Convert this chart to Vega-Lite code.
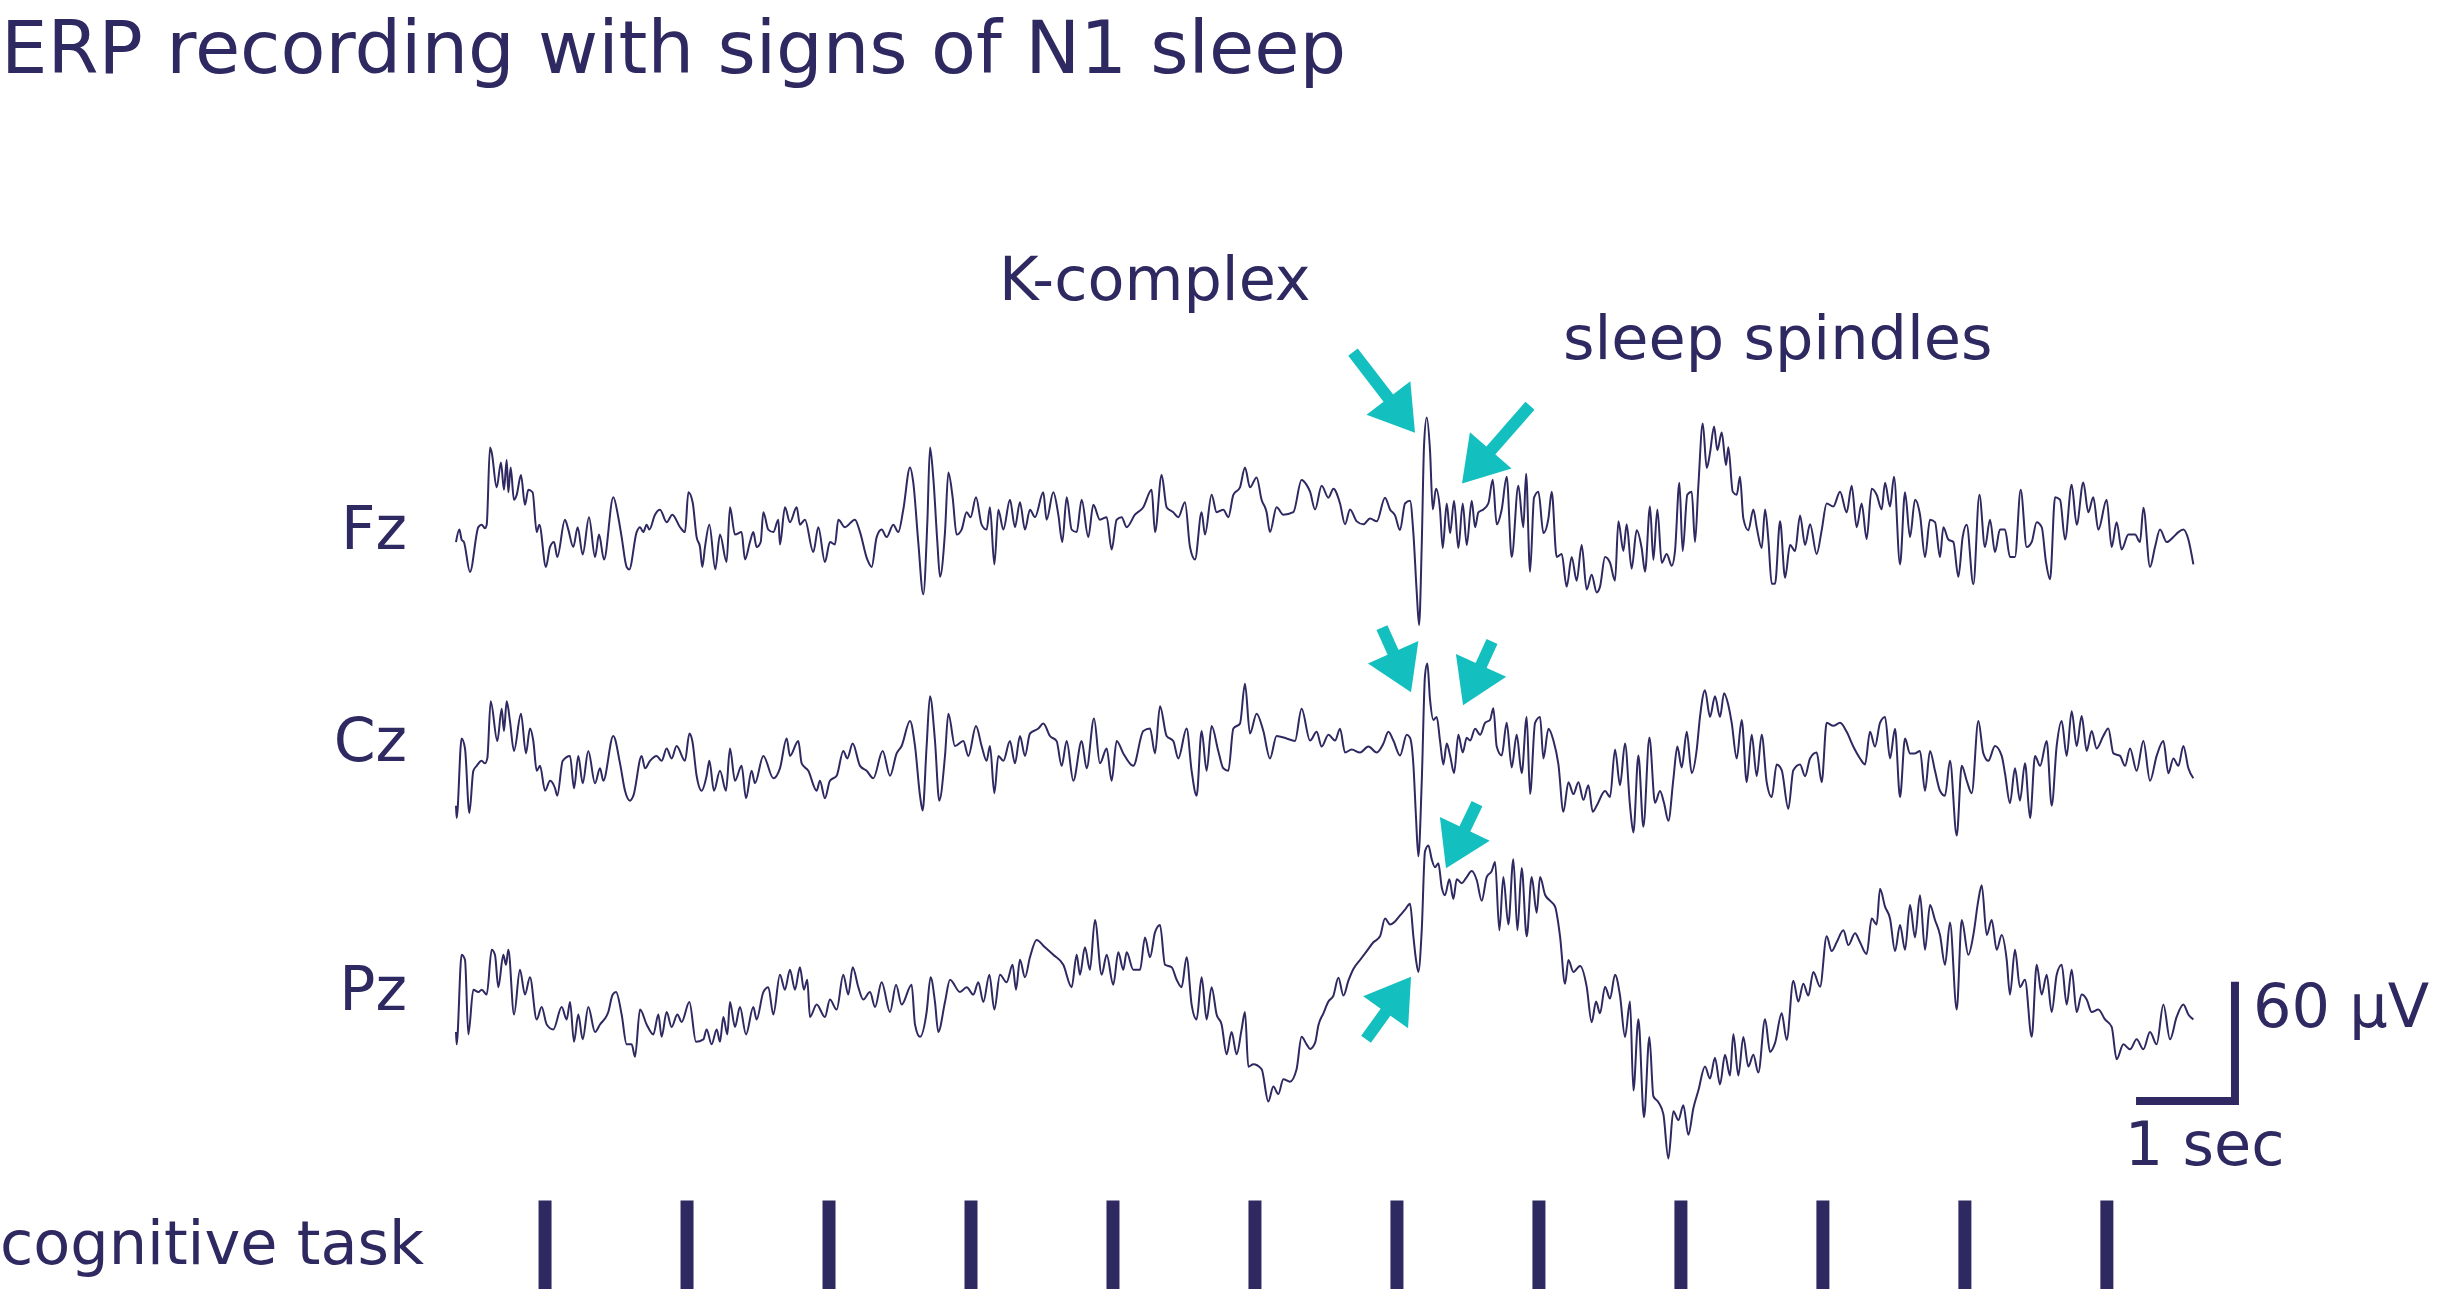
{
"$schema": "https://vega.github.io/schema/vega-lite/v6.json",
"autosize": {"type": "fit", "contains": "padding"},
"width": 2440, "height": 1296, "padding": 0,
"background": "white",
"config": {"view": {"stroke": null}},
"datasets": {
"fz": [
{"t":0.000,"v":-4.0},{"t":0.033,"v":2.25},{"t":0.055,"v":-2.75},{"t":0.078,"v":-4.0},{"t":0.137,"v":-19.0},{"t":0.219,"v":3.5},{"t":0.251,"v":4.75},{"t":0.284,"v":3.0},{"t":0.301,"v":4.75},{"t":0.333,"v":43.5},{"t":0.350,"v":41.0},{"t":0.399,"v":23.5},{"t":0.441,"v":36.0},{"t":0.470,"v":22.25},{"t":0.497,"v":37.25},{"t":0.513,"v":21.0},{"t":0.536,"v":33.5},{"t":0.568,"v":17.25},{"t":0.595,"v":19.75},{"t":0.637,"v":29.75},{"t":0.676,"v":14.75},{"t":0.709,"v":22.25},{"t":0.751,"v":21.0},{"t":0.791,"v":1.0},{"t":0.817,"v":4.75},{"t":0.882,"v":-16.5},{"t":0.921,"v":-6.5},{"t":0.961,"v":-4.0},{"t":0.993,"v":-11.5},{"t":1.068,"v":7.25},{"t":1.101,"v":2.25},{"t":1.150,"v":-6.5},{"t":1.193,"v":3.5},{"t":1.242,"v":-10.25},{"t":1.304,"v":8.5},{"t":1.363,"v":-11.5},{"t":1.402,"v":-0.25},{"t":1.451,"v":-12.75},{"t":1.542,"v":18.5},{"t":1.591,"v":8.5},{"t":1.624,"v":-1.5},{"t":1.673,"v":-16.5},{"t":1.699,"v":-17.75},{"t":1.771,"v":1.0},{"t":1.804,"v":3.5},{"t":1.836,"v":1.0},{"t":1.869,"v":4.75},{"t":1.895,"v":2.25},{"t":1.951,"v":9.75},{"t":2.000,"v":12.25},{"t":2.065,"v":6.0},{"t":2.121,"v":9.75},{"t":2.196,"v":3.5},{"t":2.245,"v":1.0},{"t":2.278,"v":21.0},{"t":2.320,"v":16.0},{"t":2.359,"v":-1.5},{"t":2.392,"v":-6.5},{"t":2.415,"v":-16.5},{"t":2.441,"v":-6.5},{"t":2.484,"v":4.75},{"t":2.542,"v":-17.75},{"t":2.588,"v":-0.25},{"t":2.653,"v":-14.0},
{"t":2.686,"v":13.5},{"t":2.735,"v":-0.25},{"t":2.800,"v":1.0},{"t":2.833,"v":-12.75},{"t":2.882,"v":-4.0},{"t":2.915,"v":1.0},{"t":2.947,"v":-6.5},{"t":2.987,"v":-4.0},{"t":3.013,"v":11.0},{"t":3.062,"v":2.25},{"t":3.111,"v":1.0},{"t":3.160,"v":7.25},{"t":3.176,"v":-5.25},{"t":3.225,"v":13.5},{"t":3.274,"v":6.0},{"t":3.340,"v":13.5},{"t":3.372,"v":4.75},{"t":3.421,"v":7.25},{"t":3.503,"v":-9.0},{"t":3.552,"v":3.5},{"t":3.617,"v":-14.0},{"t":3.666,"v":-4.0},{"t":3.715,"v":-5.25},{"t":3.748,"v":7.25},{"t":3.813,"v":3.5},{"t":3.911,"v":7.25},{"t":3.961,"v":1.0},{"t":4.032,"v":-12.75},{"t":4.075,"v":-16.5},{"t":4.124,"v":-1.5},{"t":4.173,"v":2.25},{"t":4.222,"v":-1.5},{"t":4.287,"v":4.75},{"t":4.336,"v":1.0},{"t":4.385,"v":12.25},{"t":4.451,"v":33.5},{"t":4.483,"v":26.0},{"t":4.532,"v":-4.0},{"t":4.581,"v":-30.25},{"t":4.621,"v":6.0},{"t":4.647,"v":43.5},{"t":4.679,"v":28.5},{"t":4.719,"v":-4.0},{"t":4.745,"v":-21.5},{"t":4.794,"v":1.0},{"t":4.827,"v":31.0},{"t":4.869,"v":18.5},{"t":4.908,"v":-0.25},{"t":4.957,"v":2.25},{"t":5.006,"v":11.0},{"t":5.045,"v":8.5},{"t":5.098,"v":18.5},{"t":5.153,"v":4.75},{"t":5.202,"v":2.25},{"t":5.235,"v":13.5},{"t":5.278,"v":-15.25},{"t":5.317,"v":12.25},{"t":5.366,"v":2.25},{"t":5.431,"v":17.25},{"t":5.480,"v":3.5},
{"t":5.529,"v":16.0},{"t":5.578,"v":2.25},{"t":5.627,"v":12.25},{"t":5.676,"v":8.5},{"t":5.758,"v":21.0},{"t":5.790,"v":7.25},{"t":5.856,"v":21.0},{"t":5.905,"v":9.75},{"t":5.944,"v":-4.0},{"t":5.987,"v":18.5},{"t":6.036,"v":2.25},{"t":6.085,"v":1.0},{"t":6.134,"v":17.25},{"t":6.199,"v":-1.5},{"t":6.248,"v":14.75},{"t":6.313,"v":7.25},{"t":6.379,"v":8.5},{"t":6.428,"v":-7.75},{"t":6.477,"v":7.25},{"t":6.526,"v":8.5},{"t":6.575,"v":3.5},{"t":6.656,"v":9.75},{"t":6.738,"v":13.5},{"t":6.820,"v":22.25},{"t":6.853,"v":1.0},{"t":6.918,"v":29.75},{"t":6.967,"v":13.5},{"t":7.032,"v":11.0},{"t":7.081,"v":8.5},{"t":7.147,"v":16.0},{"t":7.196,"v":-6.5},{"t":7.245,"v":-12.75},{"t":7.310,"v":11.0},{"t":7.343,"v":-0.25},{"t":7.408,"v":19.75},{"t":7.457,"v":11.0},{"t":7.523,"v":12.25},{"t":7.572,"v":8.5},{"t":7.621,"v":19.75},{"t":7.686,"v":23.5},{"t":7.735,"v":33.5},{"t":7.784,"v":23.5},{"t":7.849,"v":28.5},{"t":7.898,"v":17.25},{"t":7.947,"v":11.0},{"t":7.980,"v":1.0},{"t":8.045,"v":13.5},{"t":8.111,"v":9.75},{"t":8.209,"v":11.0},{"t":8.290,"v":27.25},{"t":8.339,"v":24.75},
{"t":8.373,"v":21.3},{"t":8.422,"v":12.4},{"t":8.487,"v":24.3},{"t":8.553,"v":18.3},{"t":8.602,"v":22.8},{"t":8.667,"v":15.4},{"t":8.716,"v":4.9},{"t":8.765,"v":12.4},{"t":8.831,"v":6.4},{"t":8.896,"v":4.9},{"t":8.961,"v":7.9},{"t":9.027,"v":6.4},{"t":9.108,"v":18.3},{"t":9.157,"v":12.4},{"t":9.206,"v":9.4},{"t":9.255,"v":2.0},{"t":9.304,"v":15.4},{"t":9.353,"v":16.8},{"t":9.386,"v":0.5},{"t":9.419,"v":-29.3},{"t":9.442,"v":-45.7},{"t":9.468,"v":-5.5},{"t":9.491,"v":45.2},{"t":9.517,"v":58.6},{"t":9.549,"v":42.2},{"t":9.576,"v":12.4},{"t":9.608,"v":22.8},{"t":9.647,"v":12.4},{"t":9.674,"v":-7.0},{"t":9.713,"v":15.4},{"t":9.746,"v":0.5},{"t":9.785,"v":16.8},{"t":9.827,"v":-7.0},{"t":9.870,"v":15.4},{"t":9.909,"v":-5.5},{"t":9.958,"v":16.8},{"t":9.991,"v":3.4},{"t":10.023,"v":10.9},{"t":10.072,"v":12.4},{"t":10.121,"v":15.4},{"t":10.164,"v":27.3},{"t":10.203,"v":4.9},{"t":10.252,"v":12.4},{"t":10.301,"v":28.8},{"t":10.350,"v":-11.5},{"t":10.415,"v":24.3},{"t":10.464,"v":3.4},{"t":10.491,"v":30.3},{"t":10.530,"v":-18.9},{"t":10.569,"v":18.3},{"t":10.612,"v":21.3},{"t":10.661,"v":0.5},{"t":10.710,"v":7.9},{"t":10.742,"v":21.3},{"t":10.791,"v":-11.5},{"t":10.840,"v":-10.0},{"t":10.889,"v":-26.4},{"t":10.938,"v":-11.5},{"t":10.987,"v":-23.4},{"t":11.036,"v":-5.5},{"t":11.085,"v":-27.9},{"t":11.134,"v":-20.4},{"t":11.183,"v":-29.3},
{"t":11.216,"v":-26.4},{"t":11.265,"v":-11.5},{"t":11.314,"v":-14.4},{"t":11.363,"v":-23.4},{"t":11.396,"v":6.4},{"t":11.445,"v":-8.5},{"t":11.477,"v":4.9},{"t":11.526,"v":-17.4},{"t":11.575,"v":1.9},{"t":11.624,"v":-7.0},{"t":11.657,"v":-18.9},{"t":11.706,"v":13.9},{"t":11.739,"v":-12.9},{"t":11.778,"v":12.4},{"t":11.821,"v":-14.4},{"t":11.870,"v":-10.0},{"t":11.919,"v":-15.9},{"t":11.951,"v":-8.5},{"t":11.994,"v":25.8},{"t":12.026,"v":-8.5},{"t":12.072,"v":19.8},{"t":12.115,"v":21.3},{"t":12.147,"v":-4.0},{"t":12.180,"v":24.3},{"t":12.223,"v":55.6},{"t":12.262,"v":33.2},{"t":12.294,"v":40.7},{"t":12.334,"v":54.1},{"t":12.366,"v":42.2},{"t":12.409,"v":51.1},{"t":12.451,"v":34.7},{"t":12.474,"v":43.7},{"t":12.517,"v":21.3},{"t":12.556,"v":19.8},{"t":12.588,"v":28.8},{"t":12.621,"v":7.9},{"t":12.670,"v":1.9},{"t":12.719,"v":12.4},{"t":12.752,"v":3.4},{"t":12.801,"v":-7.0},{"t":12.834,"v":12.4},{"t":12.866,"v":-2.5},{"t":12.899,"v":-24.9},{"t":12.932,"v":-24.9},{"t":12.981,"v":6.4},{"t":13.030,"v":-21.9},{"t":13.079,"v":-5.5},{"t":13.128,"v":-8.5},{"t":13.177,"v":9.4},{"t":13.226,"v":-5.5},{"t":13.275,"v":4.9},{"t":13.340,"v":-10.0},{"t":13.389,"v":1.9},{"t":13.438,"v":15.4},{"t":13.503,"v":13.9},{"t":13.569,"v":21.3},{"t":13.634,"v":10.9},{"t":13.683,"v":24.3},{"t":13.732,"v":3.4},{"t":13.781,"v":15.4},{"t":13.830,"v":-2.5},{"t":13.879,"v":22.8},{"t":13.928,"v":19.8},{"t":13.977,"v":12.4},{"t":14.010,"v":25.8},{"t":14.059,"v":13.9},{"t":14.098,"v":28.8},
{"t":14.157,"v":-15.25},{"t":14.206,"v":21.0},{"t":14.255,"v":-1.5},{"t":14.304,"v":17.25},{"t":14.353,"v":9.75},{"t":14.402,"v":-11.5},{"t":14.451,"v":7.25},{"t":14.500,"v":6.0},{"t":14.549,"v":-11.5},{"t":14.582,"v":3.5},{"t":14.631,"v":-2.75},{"t":14.680,"v":-4.0},{"t":14.729,"v":-21.5},{"t":14.771,"v":-1.5},{"t":14.811,"v":4.75},{"t":14.876,"v":-25.25},{"t":14.935,"v":19.75},{"t":14.990,"v":-6.5},{"t":15.039,"v":7.25},{"t":15.088,"v":-9.0},{"t":15.137,"v":2.25},{"t":15.186,"v":2.25},{"t":15.235,"v":-11.5},{"t":15.284,"v":-11.5},{"t":15.340,"v":22.25},{"t":15.399,"v":-6.5},{"t":15.448,"v":-4.0},{"t":15.497,"v":6.0},{"t":15.546,"v":3.5},{"t":15.588,"v":-14.0},{"t":15.628,"v":-22.75},{"t":15.677,"v":18.5},{"t":15.726,"v":17.25},{"t":15.775,"v":-2.75},{"t":15.840,"v":24.75},{"t":15.889,"v":4.75},{"t":15.954,"v":26.0},{"t":16.003,"v":11.0},{"t":16.052,"v":18.5},{"t":16.101,"v":2.25},{"t":16.183,"v":17.25},{"t":16.232,"v":-6.5},{"t":16.281,"v":6.0},{"t":16.330,"v":-7.75},{"t":16.396,"v":-0.25},{"t":16.461,"v":-0.25},{"t":16.510,"v":-4.0},{"t":16.543,"v":13.25},{"t":16.608,"v":-16.5},{"t":16.657,"v":-6.5},{"t":16.706,"v":2.25},{"t":16.772,"v":-4.0},{"t":16.837,"v":-1.5},{"t":16.886,"v":1.0},{"t":16.935,"v":2.25},{"t":16.984,"v":-2.75},{"t":17.033,"v":-15.25}
],
"cz": [
{"t":0.000,"v":-27.5},{"t":0.006,"v":-33.75},{"t":0.055,"v":6.25},{"t":0.088,"v":1.25},{"t":0.131,"v":-31.25},{"t":0.170,"v":-10.0},{"t":0.203,"v":-7.5},{"t":0.251,"v":-5.0},{"t":0.284,"v":-6.25},{"t":0.307,"v":-3.75},{"t":0.340,"v":25.0},{"t":0.405,"v":5.0},{"t":0.448,"v":21.25},{"t":0.470,"v":10.0},{"t":0.497,"v":25.0},{"t":0.529,"v":15.0},{"t":0.568,"v":0.0},{"t":0.637,"v":18.75},{"t":0.686,"v":-1.25},{"t":0.725,"v":11.25},{"t":0.758,"v":5.0},{"t":0.791,"v":-10.0},{"t":0.824,"v":-7.5},{"t":0.873,"v":-20.0},{"t":0.922,"v":-15.0},{"t":0.971,"v":-18.75},{"t":0.993,"v":-22.5},{"t":1.046,"v":-5.0},{"t":1.118,"v":-2.5},{"t":1.157,"v":-18.75},{"t":1.199,"v":-2.5},{"t":1.242,"v":-16.25},{"t":1.297,"v":0.0},{"t":1.363,"v":-16.25},{"t":1.412,"v":-8.75},{"t":1.444,"v":-15.0},{"t":1.542,"v":7.5},{"t":1.608,"v":-6.25},{"t":1.657,"v":-20.0},{"t":1.706,"v":-25.0},{"t":1.739,"v":-22.5},{"t":1.820,"v":-2.5},{"t":1.853,"v":-8.75},{"t":1.902,"v":-5.0},{"t":1.967,"v":-2.5},{"t":2.016,"v":-5.0},{"t":2.065,"v":1.25},{"t":2.114,"v":-3.75},{"t":2.163,"v":2.5},{"t":2.245,"v":-5.0},{"t":2.288,"v":8.75},{"t":2.317,"v":5.0},{"t":2.359,"v":-12.5},{"t":2.408,"v":-20.0},{"t":2.457,"v":-12.5},{"t":2.484,"v":-5.0},{"t":2.529,"v":-20.0},{"t":2.588,"v":-10.0},{"t":2.647,"v":-20.0},
{"t":2.686,"v":1.25},{"t":2.735,"v":-15.0},{"t":2.800,"v":-7.5},{"t":2.843,"v":-23.75},{"t":2.898,"v":-10.0},{"t":2.931,"v":-16.25},{"t":3.013,"v":-2.5},{"t":3.111,"v":-13.75},{"t":3.176,"v":-8.75},{"t":3.242,"v":6.25},{"t":3.274,"v":-2.5},{"t":3.356,"v":5.0},{"t":3.389,"v":-6.25},{"t":3.454,"v":-10.0},{"t":3.536,"v":-20.0},{"t":3.568,"v":-15.0},{"t":3.617,"v":-23.75},{"t":3.666,"v":-15.0},{"t":3.732,"v":-12.5},{"t":3.797,"v":0.0},{"t":3.836,"v":-3.75},{"t":3.889,"v":3.75},{"t":3.961,"v":-7.5},{"t":4.026,"v":-10.0},{"t":4.091,"v":-13.75},{"t":4.183,"v":0.0},{"t":4.255,"v":-12.5},{"t":4.320,"v":-1.25},{"t":4.369,"v":2.5},{"t":4.451,"v":15.0},{"t":4.500,"v":2.5},{"t":4.549,"v":-22.5},{"t":4.575,"v":-30.0},{"t":4.614,"v":2.5},{"t":4.647,"v":27.5},{"t":4.696,"v":5.0},{"t":4.738,"v":-25.0},{"t":4.794,"v":-2.5},{"t":4.827,"v":18.75},{"t":4.892,"v":2.5},{"t":4.974,"v":5.0},{"t":5.023,"v":-2.5},{"t":5.098,"v":12.5},{"t":5.153,"v":2.5},{"t":5.202,"v":-5.0},{"t":5.235,"v":2.5},{"t":5.278,"v":-21.25},{"t":5.317,"v":-2.5},{"t":5.366,"v":-5.0},{"t":5.431,"v":5.0},{"t":5.480,"v":-6.25},
{"t":5.529,"v":7.5},{"t":5.578,"v":-2.5},{"t":5.627,"v":8.75},{"t":5.709,"v":11.25},{"t":5.758,"v":13.75},{"t":5.823,"v":7.5},{"t":5.888,"v":5.0},{"t":5.938,"v":-7.5},{"t":5.987,"v":5.0},{"t":6.052,"v":-15.0},{"t":6.134,"v":5.0},{"t":6.183,"v":-8.75},{"t":6.255,"v":16.25},{"t":6.313,"v":-6.25},{"t":6.379,"v":1.25},{"t":6.428,"v":-15.0},{"t":6.477,"v":5.0},{"t":6.542,"v":-1.25},{"t":6.640,"v":-7.5},{"t":6.738,"v":10.0},{"t":6.804,"v":11.25},{"t":6.853,"v":-1.25},{"t":6.902,"v":22.5},{"t":6.967,"v":7.5},{"t":7.032,"v":5.0},{"t":7.081,"v":-3.75},{"t":7.163,"v":11.25},{"t":7.212,"v":-10.0},{"t":7.261,"v":-22.5},{"t":7.310,"v":10.0},{"t":7.359,"v":-10.0},{"t":7.408,"v":12.5},{"t":7.473,"v":0.0},{"t":7.523,"v":-8.75},{"t":7.572,"v":-10.0},{"t":7.621,"v":11.25},{"t":7.686,"v":13.75},{"t":7.735,"v":33.75},{"t":7.784,"v":8.75},{"t":7.849,"v":18.75},{"t":7.915,"v":10.0},{"t":7.980,"v":-3.75},{"t":8.045,"v":7.5},{"t":8.143,"v":6.25},{"t":8.225,"v":5.0},{"t":8.290,"v":21.25},
{"t":8.373,"v":5.2},{"t":8.438,"v":9.6},{"t":8.487,"v":2.2},{"t":8.553,"v":8.1},{"t":8.618,"v":5.2},{"t":8.667,"v":11.1},{"t":8.716,"v":-0.8},{"t":8.781,"v":0.7},{"t":8.863,"v":-0.8},{"t":8.945,"v":2.2},{"t":9.027,"v":-0.8},{"t":9.092,"v":3.7},{"t":9.141,"v":9.6},{"t":9.190,"v":5.2},{"t":9.255,"v":-2.3},{"t":9.321,"v":8.1},{"t":9.353,"v":6.6},{"t":9.386,"v":-6.8},{"t":9.412,"v":-33.6},{"t":9.435,"v":-53.0},{"t":9.468,"v":-15.7},{"t":9.500,"v":37.9},{"t":9.523,"v":43.9},{"t":9.549,"v":26.0},{"t":9.582,"v":15.6},{"t":9.615,"v":17.1},{"t":9.647,"v":5.2},{"t":9.680,"v":-6.8},{"t":9.713,"v":3.7},{"t":9.746,"v":-2.3},{"t":9.785,"v":-11.2},{"t":9.827,"v":8.1},{"t":9.870,"v":-0.8},{"t":9.909,"v":6.6},{"t":9.942,"v":5.2},{"t":9.991,"v":11.1},{"t":10.040,"v":8.1},{"t":10.089,"v":14.1},{"t":10.138,"v":15.6},{"t":10.170,"v":21.5},{"t":10.203,"v":2.2},{"t":10.252,"v":-2.3},{"t":10.301,"v":14.1},{"t":10.350,"v":-8.3},{"t":10.399,"v":8.1},{"t":10.448,"v":-11.2},{"t":10.497,"v":17.1},{"t":10.530,"v":-21.7},{"t":10.579,"v":14.1},{"t":10.628,"v":17.1},{"t":10.661,"v":-3.8},{"t":10.710,"v":11.1},{"t":10.759,"v":5.2},{"t":10.808,"v":-6.8},{"t":10.857,"v":-30.6},{"t":10.906,"v":-15.7},{"t":10.955,"v":-21.7},{"t":11.004,"v":-15.7},{"t":11.053,"v":-24.6},{"t":11.102,"v":-17.2},{"t":11.144,"v":-30.6},{"t":11.183,"v":-27.6},
{"t":11.265,"v":-20.2},{"t":11.314,"v":-23.2},{"t":11.363,"v":0.7},{"t":11.412,"v":-17.2},{"t":11.461,"v":3.7},{"t":11.510,"v":-27.6},{"t":11.543,"v":-41.0},{"t":11.592,"v":-2.3},{"t":11.641,"v":-38.1},{"t":11.700,"v":6.7},{"t":11.755,"v":-26.1},{"t":11.804,"v":-20.2},{"t":11.843,"v":-26.1},{"t":11.886,"v":-35.1},{"t":11.935,"v":-14.2},{"t":11.974,"v":2.2},{"t":12.017,"v":-8.3},{"t":12.066,"v":9.6},{"t":12.115,"v":-11.2},{"t":12.164,"v":0.7},{"t":12.196,"v":17.1},{"t":12.245,"v":30.5},{"t":12.294,"v":17.1},{"t":12.343,"v":27.5},{"t":12.392,"v":17.1},{"t":12.432,"v":29.0},{"t":12.474,"v":23.0},{"t":12.507,"v":14.1},{"t":12.556,"v":-3.8},{"t":12.605,"v":15.6},{"t":12.654,"v":-15.7},{"t":12.703,"v":8.1},{"t":12.752,"v":-12.7},{"t":12.801,"v":8.1},{"t":12.850,"v":-15.7},{"t":12.899,"v":-23.2},{"t":12.948,"v":-6.8},{"t":12.997,"v":-9.7},{"t":13.062,"v":-29.1},{"t":13.111,"v":-9.7},{"t":13.177,"v":-6.8},{"t":13.226,"v":-12.7},{"t":13.275,"v":-3.8},{"t":13.340,"v":-0.8},{"t":13.389,"v":-15.7},{"t":13.438,"v":14.1},{"t":13.503,"v":12.6},{"t":13.569,"v":14.1},{"t":13.634,"v":9.6},{"t":13.699,"v":2.2},{"t":13.765,"v":-3.8},{"t":13.814,"v":-6.8},{"t":13.863,"v":9.6},{"t":13.912,"v":2.2},{"t":13.961,"v":14.1},{"t":14.010,"v":17.1},{"t":14.059,"v":-3.8},{"t":14.108,"v":11.1},{"t":14.157,"v":-23.2},
{"t":14.206,"v":6.25},{"t":14.255,"v":-1.25},{"t":14.304,"v":-1.25},{"t":14.353,"v":0.0},{"t":14.402,"v":-20.0},{"t":14.451,"v":0.0},{"t":14.500,"v":-10.0},{"t":14.549,"v":-20.0},{"t":14.598,"v":-22.5},{"t":14.647,"v":-5.0},{"t":14.713,"v":-42.5},{"t":14.762,"v":-7.5},{"t":14.811,"v":-15.0},{"t":14.860,"v":-21.25},{"t":14.925,"v":15.0},{"t":14.974,"v":-1.25},{"t":15.023,"v":-5.0},{"t":15.088,"v":2.5},{"t":15.154,"v":-2.5},{"t":15.186,"v":-11.25},{"t":15.235,"v":-26.25},{"t":15.284,"v":-8.75},{"t":15.333,"v":-25.0},{"t":15.382,"v":-6.25},{"t":15.432,"v":-33.75},{"t":15.481,"v":-2.5},{"t":15.530,"v":-7.5},{"t":15.595,"v":5.0},{"t":15.644,"v":-27.5},{"t":15.693,"v":2.5},{"t":15.742,"v":15.0},{"t":15.791,"v":-2.5},{"t":15.840,"v":20.0},{"t":15.889,"v":2.5},{"t":15.938,"v":17.5},{"t":15.987,"v":0.0},{"t":16.036,"v":10.0},{"t":16.085,"v":1.25},{"t":16.150,"v":7.5},{"t":16.199,"v":11.25},{"t":16.249,"v":-1.25},{"t":16.314,"v":-2.5},{"t":16.363,"v":-7.5},{"t":16.412,"v":1.25},{"t":16.477,"v":-10.0},{"t":16.543,"v":5.0},{"t":16.608,"v":-15.0},{"t":16.673,"v":-2.5},{"t":16.739,"v":5.0},{"t":16.788,"v":-11.25},{"t":16.837,"v":-3.75},{"t":16.886,"v":-7.5},{"t":16.935,"v":2.5},{"t":16.984,"v":-8.75},{"t":17.033,"v":-13.75}
],
"pz": [
{"t":0.000,"v":-16.75},{"t":0.006,"v":-23.0},{"t":0.055,"v":22.0},{"t":0.088,"v":19.5},{"t":0.121,"v":-18.0},{"t":0.170,"v":4.5},{"t":0.219,"v":3.25},{"t":0.252,"v":4.5},{"t":0.301,"v":2.0},{"t":0.350,"v":24.5},{"t":0.382,"v":22.0},{"t":0.415,"v":5.75},{"t":0.464,"v":22.0},{"t":0.490,"v":17.0},{"t":0.513,"v":24.5},{"t":0.569,"v":-8.0},{"t":0.627,"v":14.5},{"t":0.676,"v":2.0},{"t":0.725,"v":10.75},{"t":0.791,"v":-10.5},{"t":0.840,"v":-4.25},{"t":0.889,"v":-13.0},{"t":0.954,"v":-15.5},{"t":1.036,"v":-4.25},{"t":1.085,"v":-10.5},{"t":1.118,"v":-1.75},{"t":1.157,"v":-21.75},{"t":1.199,"v":-8.0},{"t":1.242,"v":-20.5},{"t":1.297,"v":-4.25},{"t":1.363,"v":-16.75},{"t":1.412,"v":-13.0},{"t":1.493,"v":-6.75},{"t":1.536,"v":2.0},{"t":1.569,"v":3.25},{"t":1.624,"v":-8.0},{"t":1.673,"v":-23.0},{"t":1.722,"v":-23.0},{"t":1.755,"v":-29.25},{"t":1.804,"v":-5.5},{"t":1.869,"v":-13.0},{"t":1.935,"v":-18.0},{"t":1.984,"v":-8.0},{"t":2.016,"v":-19.25},{"t":2.065,"v":-6.75},{"t":2.114,"v":-14.25},{"t":2.170,"v":-8.0},{"t":2.212,"v":-11.75},{"t":2.288,"v":-1.75},{"t":2.353,"v":-21.75},{"t":2.425,"v":-20.5},{"t":2.457,"v":-15.5},{"t":2.506,"v":-23.0},{"t":2.556,"v":-15.5},{"t":2.588,"v":-21.75},{"t":2.621,"v":-9.25},{"t":2.660,"v":-18.0},
{"t":2.686,"v":-1.75},{"t":2.735,"v":-14.25},{"t":2.784,"v":-4.25},{"t":2.843,"v":-18.0},{"t":2.915,"v":-4.25},{"t":2.947,"v":-10.5},{"t":3.013,"v":3.25},{"t":3.062,"v":5.75},{"t":3.111,"v":-8.0},{"t":3.176,"v":12.0},{"t":3.225,"v":4.5},{"t":3.274,"v":14.5},{"t":3.323,"v":4.5},{"t":3.372,"v":15.75},{"t":3.411,"v":4.5},{"t":3.444,"v":9.5},{"t":3.470,"v":-9.25},{"t":3.536,"v":-3.0},{"t":3.617,"v":-9.25},{"t":3.666,"v":-0.5},{"t":3.732,"v":-5.5},{"t":3.797,"v":12.0},{"t":3.846,"v":2.0},{"t":3.889,"v":15.75},{"t":3.944,"v":5.75},{"t":3.993,"v":-0.5},{"t":4.059,"v":3.25},{"t":4.108,"v":-4.25},{"t":4.173,"v":8.25},{"t":4.255,"v":-6.75},{"t":4.314,"v":7.0},{"t":4.369,"v":-3.0},{"t":4.467,"v":7.0},{"t":4.500,"v":-13.0},{"t":4.549,"v":-19.25},{"t":4.614,"v":-6.75},{"t":4.653,"v":10.75},{"t":4.696,"v":-1.75},{"t":4.728,"v":-16.75},{"t":4.794,"v":-1.75},{"t":4.843,"v":9.5},{"t":4.941,"v":3.25},{"t":5.006,"v":5.75},{"t":5.072,"v":2.0},{"t":5.121,"v":8.25},{"t":5.170,"v":-1.75},{"t":5.229,"v":12.0},{"t":5.278,"v":-5.5},{"t":5.333,"v":12.0},{"t":5.398,"v":8.25},{"t":5.457,"v":17.0},{"t":5.490,"v":4.5},
{"t":5.529,"v":19.5},{"t":5.578,"v":10.75},{"t":5.627,"v":20.75},{"t":5.692,"v":29.5},{"t":5.774,"v":25.75},{"t":5.856,"v":22.0},{"t":5.954,"v":17.0},{"t":6.036,"v":5.75},{"t":6.085,"v":22.0},{"t":6.117,"v":12.0},{"t":6.166,"v":25.75},{"t":6.215,"v":14.5},{"t":6.264,"v":39.5},{"t":6.330,"v":12.0},{"t":6.379,"v":22.0},{"t":6.444,"v":7.0},{"t":6.493,"v":23.25},{"t":6.542,"v":14.5},{"t":6.575,"v":23.25},{"t":6.640,"v":14.5},{"t":6.706,"v":14.5},{"t":6.755,"v":30.75},{"t":6.804,"v":20.75},{"t":6.853,"v":33.25},{"t":6.902,"v":37.0},{"t":6.951,"v":17.0},{"t":7.016,"v":15.75},{"t":7.065,"v":9.5},{"t":7.114,"v":5.75},{"t":7.163,"v":20.75},{"t":7.212,"v":-3.0},{"t":7.261,"v":-10.5},{"t":7.310,"v":10.75},{"t":7.359,"v":-10.5},{"t":7.408,"v":5.75},{"t":7.457,"v":-8.0},{"t":7.506,"v":-13.0},{"t":7.555,"v":-28.0},{"t":7.604,"v":-16.75},{"t":7.653,"v":-28.0},{"t":7.702,"v":-15.5},{"t":7.735,"v":-6.75},{"t":7.768,"v":-34.25},{"t":7.817,"v":-33.0},{"t":7.898,"v":-35.5},{"t":7.964,"v":-51.75},{"t":8.013,"v":-44.25},{"t":8.062,"v":-48.0},{"t":8.111,"v":-40.5},{"t":8.176,"v":-41.75},{"t":8.241,"v":-35.5},{"t":8.290,"v":-19.25},{"t":8.339,"v":-23.0},
{"t":8.373,"v":-25.3},{"t":8.422,"v":-22.3},{"t":8.455,"v":-13.4},{"t":8.504,"v":-7.4},{"t":8.553,"v":-1.5},{"t":8.602,"v":1.5},{"t":8.651,"v":10.5},{"t":8.700,"v":1.5},{"t":8.749,"v":9.0},{"t":8.798,"v":14.9},{"t":8.863,"v":19.4},{"t":8.929,"v":23.9},{"t":8.994,"v":28.3},{"t":9.059,"v":31.3},{"t":9.108,"v":40.3},{"t":9.157,"v":37.3},{"t":9.206,"v":38.8},{"t":9.255,"v":41.8},{"t":9.304,"v":44.7},{"t":9.353,"v":47.7},{"t":9.386,"v":31.3},{"t":9.412,"v":19.4},{"t":9.435,"v":13.4},{"t":9.468,"v":34.3},{"t":9.500,"v":74.0},{"t":9.533,"v":77.0},{"t":9.566,"v":70.0},{"t":9.598,"v":66.0},{"t":9.631,"v":68.0},{"t":9.664,"v":56.0},{"t":9.696,"v":52.0},{"t":9.739,"v":60.0},{"t":9.778,"v":50.0},{"t":9.811,"v":60.0},{"t":9.860,"v":58.0},{"t":9.909,"v":61.1},{"t":9.958,"v":64.1},{"t":10.007,"v":59.6},{"t":10.056,"v":49.2},{"t":10.105,"v":61.1},{"t":10.154,"v":64.1},{"t":10.187,"v":68.6},{"t":10.229,"v":34.3},{"t":10.268,"v":61.1},{"t":10.317,"v":37.3},{"t":10.366,"v":70.1},{"t":10.406,"v":34.3},{"t":10.448,"v":65.6},{"t":10.497,"v":31.3},{"t":10.546,"v":61.1},{"t":10.595,"v":43.2},{"t":10.628,"v":61.1},{"t":10.677,"v":52.2},{"t":10.726,"v":49.2},{"t":10.775,"v":46.2},{"t":10.824,"v":31.3},{"t":10.873,"v":7.5},{"t":10.906,"v":19.4},{"t":10.955,"v":13.4},{"t":11.020,"v":16.4},{"t":11.085,"v":6.0},{"t":11.134,"v":-11.9},{"t":11.177,"v":-1.5},
{"t":11.216,"v":-7.4},{"t":11.265,"v":6.0},{"t":11.314,"v":0.0},{"t":11.363,"v":12.0},{"t":11.412,"v":1.5},{"t":11.461,"v":-19.3},{"t":11.510,"v":-1.5},{"t":11.543,"v":-46.2},{"t":11.592,"v":-10.4},{"t":11.647,"v":-59.6},{"t":11.700,"v":-19.3},{"t":11.739,"v":-49.1},{"t":11.788,"v":-52.1},{"t":11.837,"v":-58.1},{"t":11.886,"v":-80.4},{"t":11.935,"v":-56.6},{"t":11.984,"v":-61.1},{"t":12.033,"v":-53.6},{"t":12.082,"v":-68.5},{"t":12.131,"v":-55.1},{"t":12.180,"v":-46.2},{"t":12.245,"v":-34.2},{"t":12.294,"v":-40.2},{"t":12.343,"v":-29.8},{"t":12.392,"v":-43.2},{"t":12.441,"v":-28.3},{"t":12.490,"v":-38.7},{"t":12.523,"v":-17.9},{"t":12.572,"v":-38.7},{"t":12.621,"v":-19.3},{"t":12.670,"v":-34.2},{"t":12.719,"v":-28.3},{"t":12.768,"v":-37.2},{"t":12.834,"v":-10.4},{"t":12.883,"v":-26.8},{"t":12.932,"v":-22.3},{"t":12.997,"v":-7.4},{"t":13.046,"v":-20.8},{"t":13.111,"v":9.0},{"t":13.160,"v":-1.5},{"t":13.209,"v":7.5},{"t":13.258,"v":1.5},{"t":13.307,"v":13.4},{"t":13.373,"v":6.0},{"t":13.438,"v":31.3},{"t":13.487,"v":23.9},{"t":13.536,"v":28.3},{"t":13.602,"v":34.3},{"t":13.651,"v":26.9},{"t":13.716,"v":32.8},{"t":13.765,"v":28.3},{"t":13.830,"v":22.4},{"t":13.879,"v":40.3},{"t":13.928,"v":37.3},{"t":13.961,"v":55.2},{"t":14.010,"v":46.2},{"t":14.059,"v":40.3},{"t":14.108,"v":23.9},
{"t":14.157,"v":37.0},{"t":14.206,"v":24.5},{"t":14.255,"v":47.0},{"t":14.304,"v":30.75},{"t":14.353,"v":52.0},{"t":14.402,"v":24.5},{"t":14.451,"v":47.0},{"t":14.500,"v":39.5},{"t":14.549,"v":32.0},{"t":14.598,"v":17.0},{"t":14.647,"v":38.25},{"t":14.713,"v":-5.5},{"t":14.762,"v":39.5},{"t":14.827,"v":22.0},{"t":14.876,"v":32.0},{"t":14.925,"v":49.5},{"t":14.958,"v":57.0},{"t":15.007,"v":32.0},{"t":15.056,"v":39.5},{"t":15.105,"v":24.5},{"t":15.154,"v":32.0},{"t":15.203,"v":19.5},{"t":15.235,"v":2.0},{"t":15.284,"v":24.5},{"t":15.333,"v":5.75},{"t":15.382,"v":9.5},{"t":15.448,"v":-19.25},{"t":15.497,"v":17.0},{"t":15.546,"v":2.0},{"t":15.595,"v":12.0},{"t":15.644,"v":-6.75},{"t":15.693,"v":12.0},{"t":15.742,"v":17.0},{"t":15.791,"v":-3.0},{"t":15.840,"v":14.5},{"t":15.889,"v":-6.75},{"t":15.938,"v":2.0},{"t":15.987,"v":-0.5},{"t":16.036,"v":-6.75},{"t":16.101,"v":-5.5},{"t":16.167,"v":-10.5},{"t":16.232,"v":-14.25},{"t":16.281,"v":-30.5},{"t":16.347,"v":-23.0},{"t":16.412,"v":-25.5},{"t":16.477,"v":-20.5},{"t":16.543,"v":-25.5},{"t":16.608,"v":-16.75},{"t":16.673,"v":-23.0},{"t":16.739,"v":-3.0},{"t":16.804,"v":-20.5},{"t":16.869,"v":-9.25},{"t":16.935,"v":-3.0},{"t":16.984,"v":-8.0},{"t":17.033,"v":-10.5}
],
"channels": [
{"label":"Fz","t":-0.48,"v":372},{"label":"Cz","t":-0.48,"v":265.5},{"label":"Pz","t":-0.48,"v":140.5}
],
"notes": [
{"label":"K-complex","t":5.324,"v":497},{"label":"sleep spindles","t":10.853,"v":467.5},{"label":"cognitive task","t":-4.47,"v":12.5},{"label":"60 µV","t":17.618,"v":131.5},{"label":"1 sec","t":16.36,"v":62.5}
],
"heading": [
{"label":"ERP recording with signs of N1 sleep","t":-4.46,"v":611.5}
],
"tasks": [
{"t":0.873},{"t":2.265},{"t":3.657},{"t":5.049},{"t":6.441},{"t":7.833},{"t":9.225},{"t":10.617},{"t":12.009},{"t":13.401},{"t":14.793},{"t":16.185}
],
"arrows": [
{"t1":8.794,"v1":471,"t2":9.402,"v2":430.5},
{"t1":10.529,"v1":444,"t2":9.863,"v2":405},
{"t1":9.078,"v1":332.5,"t2":9.363,"v2":300},
{"t1":10.157,"v1":325.5,"t2":9.873,"v2":293.5},
{"t1":10.010,"v1":244,"t2":9.706,"v2":211.5},
{"t1":8.922,"v1":125.5,"t2":9.363,"v2":157}
],
"scalebar": [
{"t":16.471,"v":94.5,"o":1},{"t":17.441,"v":94.5,"o":2},{"t":17.441,"v":154.5,"o":3}
]
},
"resolve": {"scale": {"y": "independent"}},
"layer": [
{
"data": {"name": "fz"},
"mark": {"type": "line", "color": "#2e2960", "strokeWidth": 2, "strokeJoin": "round", "interpolate": "monotone"},
"encoding": {
"x": {"field": "t", "type": "quantitative", "scale": {"domain": [-4.4706, 19.451], "nice": false, "zero": false}, "axis": null},
"y": {"field": "v", "type": "quantitative", "scale": {"domain": [-379.5, 268.5], "nice": false, "zero": false}, "axis": null}
}
},
{
"data": {"name": "cz"},
"mark": {"type": "line", "color": "#2e2960", "strokeWidth": 2, "strokeJoin": "round", "interpolate": "monotone"},
"encoding": {
"x": {"field": "t", "type": "quantitative", "scale": {"domain": [-4.4706, 19.451], "nice": false, "zero": false}, "axis": null},
"y": {"field": "v", "type": "quantitative", "scale": {"domain": [-270.5, 377.5], "nice": false, "zero": false}, "axis": null}
}
},
{
"data": {"name": "pz"},
"mark": {"type": "line", "color": "#2e2960", "strokeWidth": 2, "strokeJoin": "round", "interpolate": "monotone"},
"encoding": {
"x": {"field": "t", "type": "quantitative", "scale": {"domain": [-4.4706, 19.451], "nice": false, "zero": false}, "axis": null},
"y": {"field": "v", "type": "quantitative", "scale": {"domain": [-146, 502], "nice": false, "zero": false}, "axis": null}
}
},
{
"layer": [
{
"data": {"name": "heading"},
"mark": {"type": "text", "font": "DejaVu Sans", "fontSize": 73.5, "align": "left", "baseline": "alphabetic", "color": "#2e2960"},
"encoding": {
"x": {"field": "t", "type": "quantitative", "scale": {"domain": [-4.4706, 19.451], "nice": false, "zero": false}, "axis": null},
"y": {"field": "v", "type": "quantitative", "scale": {"domain": [0, 648], "nice": false, "zero": false}, "axis": null},
"text": {"field": "label"}
}
},
{
"data": {"name": "channels"},
"mark": {"type": "text", "font": "DejaVu Sans", "fontSize": 60, "align": "right", "baseline": "alphabetic", "color": "#2e2960"},
"encoding": {
"x": {"field": "t", "type": "quantitative", "scale": {"domain": [-4.4706, 19.451], "nice": false, "zero": false}, "axis": null},
"y": {"field": "v", "type": "quantitative", "scale": {"domain": [0, 648], "nice": false, "zero": false}, "axis": null},
"text": {"field": "label"}
}
},
{
"data": {"name": "notes"},
"mark": {"type": "text", "font": "DejaVu Sans", "fontSize": 60.5, "align": "left", "baseline": "alphabetic", "color": "#2e2960"},
"encoding": {
"x": {"field": "t", "type": "quantitative", "scale": {"domain": [-4.4706, 19.451], "nice": false, "zero": false}, "axis": null},
"y": {"field": "v", "type": "quantitative", "scale": {"domain": [0, 648], "nice": false, "zero": false}, "axis": null},
"text": {"field": "label"}
}
},
{
"data": {"name": "tasks"},
"mark": {"type": "rule", "color": "#2e2960", "strokeWidth": 13, "strokeCap": "butt"},
"encoding": {
"x": {"field": "t", "type": "quantitative", "scale": {"domain": [-4.4706, 19.451], "nice": false, "zero": false}, "axis": null},
"y": {"datum": 44.5, "type": "quantitative", "scale": {"domain": [0, 648], "nice": false, "zero": false}, "axis": null},
"y2": {"datum": 0}
}
},
{
"data": {"name": "scalebar"},
"mark": {"type": "line", "color": "#2e2960", "strokeWidth": 8, "strokeCap": "butt", "strokeJoin": "miter"},
"encoding": {
"x": {"field": "t", "type": "quantitative", "scale": {"domain": [-4.4706, 19.451], "nice": false, "zero": false}, "axis": null},
"y": {"field": "v", "type": "quantitative", "scale": {"domain": [0, 648], "nice": false, "zero": false}, "axis": null},
"order": {"field": "o", "type": "quantitative"}
}
},
{
"data": {"name": "arrows"},
"transform": [
{"calculate": "datum.t2 + (datum.t1 - datum.t2) * 0.3", "as": "tn"},
{"calculate": "datum.v2 + (datum.v1 - datum.v2) * 0.3", "as": "vn"}
],
"mark": {"type": "rule", "color": "#13bfbf", "strokeWidth": 12, "strokeCap": "butt"},
"encoding": {
"x": {"field": "t1", "type": "quantitative", "scale": {"domain": [-4.4706, 19.451], "nice": false, "zero": false}, "axis": null},
"y": {"field": "v1", "type": "quantitative", "scale": {"domain": [0, 648], "nice": false, "zero": false}, "axis": null},
"x2": {"field": "tn"},
"y2": {"field": "vn"}
}
},
{
"data": {"name": "arrows"},
"transform": [
{"calculate": "atan2(102 * (datum.t2 - datum.t1), 2 * (datum.v2 - datum.v1)) * 180 / PI", "as": "ang"}
],
"mark": {"type": "point", "shape": "M0,0L1.2,1.9L-1.2,1.9Z", "size": 2116, "filled": true, "color": "#13bfbf", "opacity": 1, "strokeWidth": 0},
"encoding": {
"x": {"field": "t2", "type": "quantitative", "scale": {"domain": [-4.4706, 19.451], "nice": false, "zero": false}, "axis": null},
"y": {"field": "v2", "type": "quantitative", "scale": {"domain": [0, 648], "nice": false, "zero": false}, "axis": null},
"angle": {"field": "ang", "type": "quantitative", "scale": null}
}
}
]
}
]
}
